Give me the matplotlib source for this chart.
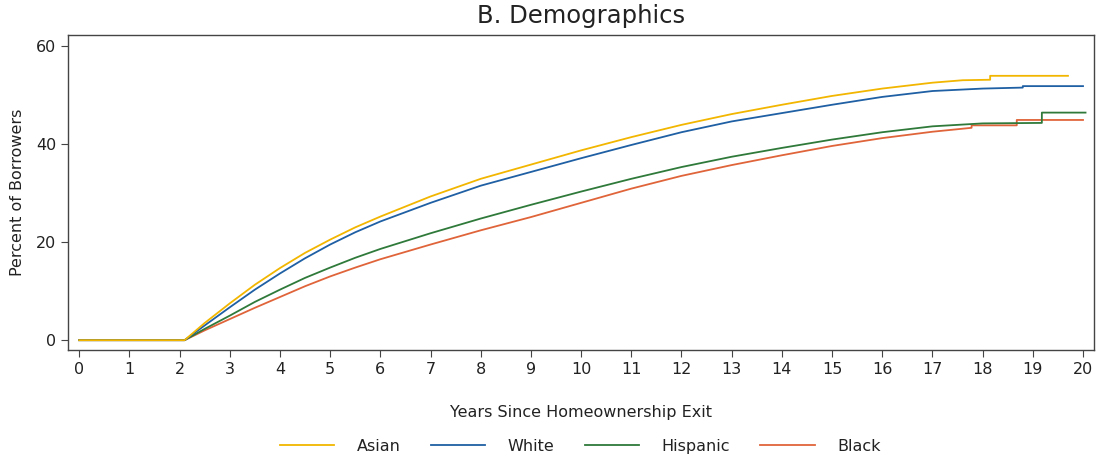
import matplotlib
matplotlib.use("Agg")
import matplotlib.pyplot as plt

# Cumulative share of borrowers by years since leaving homeownership
groups = ["Asian", "White", "Hispanic", "Black"]
colors = ["#f2b600", "#1f5fa3", "#2f7a3a", "#e0643a"]

asian_t = [0, 2.1, 2.5, 3, 3.5, 4, 4.5, 5, 5.5, 6, 7, 8, 9, 10, 11, 12, 13, 14,
           15, 16, 17, 17.6, 18.15, 18.15, 19.7]
asian_v = [0, 0, 3.5, 7.5, 11.3, 14.7, 17.8, 20.5, 23.0, 25.2, 29.3, 32.9, 35.8,
           38.7, 41.4, 43.9, 46.1, 48.0, 49.8, 51.3, 52.5, 53.0, 53.1, 53.9, 53.9]

white_t = [0, 2.1, 2.5, 3, 3.5, 4, 4.5, 5, 5.5, 6, 7, 8, 9, 10, 11, 12, 13, 14,
           15, 16, 17, 18, 18.8, 18.8, 20.0]
white_v = [0, 0, 3.0, 6.7, 10.3, 13.6, 16.7, 19.5, 22.0, 24.2, 28.0, 31.5, 34.3,
           37.1, 39.8, 42.4, 44.6, 46.3, 48.0, 49.6, 50.8, 51.3, 51.5, 51.8, 51.8]

hispanic_t = [0, 2.1, 2.5, 3, 3.5, 4, 4.5, 5, 5.5, 6, 7, 8, 9, 10, 11, 12, 13,
              14, 15, 16, 17, 18, 19.18, 19.18, 20.05]
hispanic_v = [0, 0, 2.3, 5.0, 7.8, 10.3, 12.7, 14.8, 16.8, 18.6, 21.8, 24.8,
              27.6, 30.3, 32.9, 35.3, 37.4, 39.2, 40.9, 42.4, 43.6, 44.2, 44.3,
              46.4, 46.4]

black_t = [0, 2.1, 2.5, 3, 3.5, 4, 4.5, 5, 5.5, 6, 7, 8, 9, 10, 11, 12, 13, 14,
           15, 16, 17, 17.78, 17.78, 18.68, 18.68, 20.0]
black_v = [0, 0, 2.0, 4.3, 6.6, 8.8, 11.0, 13.0, 14.8, 16.5, 19.5, 22.4, 25.1,
           28.0, 30.9, 33.5, 35.7, 37.7, 39.6, 41.2, 42.5, 43.3, 43.8, 43.8,
           44.9, 44.9]

series = [(asian_t, asian_v), (white_t, white_v),
          (hispanic_t, hispanic_v), (black_t, black_v)]

x_ticks = list(range(0, 21))
y_ticks = [0, 20, 40, 60]

fig = plt.figure(figsize=(10.99, 4.59), dpi=100)
ax = fig.add_axes([0.062, 0.2375, 0.9335, 0.686])

# draw Black first so Asian ends up on top along the flat start
handles = {}
for name, col, (t, v) in reversed(list(zip(groups, colors, series))):
    handles[name], = ax.plot(t, v, color=col, lw=1.3, label=name)

ax.set_xlim(-0.22, 20.22)
ax.set_ylim(-2.0, 62.2)
ax.set_xticks(x_ticks)
ax.set_yticks(y_ticks)
ax.tick_params(axis="both", labelsize=11.5, length=5, color="#444444",
               direction="out", labelcolor="#222222")
for sp in ax.spines.values():
    sp.set_color("#444444")
    sp.set_linewidth(1.0)

ax.set_title("B. Demographics", fontsize=17.5, color="#222222", pad=8.5)
ax.set_xlabel("Years Since Homeownership Exit", fontsize=11.5,
              color="#222222", labelpad=20)
ax.set_ylabel("Percent of Borrowers", fontsize=11.5, color="#222222",
              labelpad=8)

leg = fig.legend([handles[g] for g in groups], groups, loc="center",
                 bbox_to_anchor=(0.528, 0.028), ncol=4, frameon=False,
                 fontsize=11.5, handlelength=3.4, columnspacing=1.9,
                 handletextpad=1.4)
for txt in leg.get_texts():
    txt.set_color("#222222")

fig.savefig("out.png", dpi=100)
